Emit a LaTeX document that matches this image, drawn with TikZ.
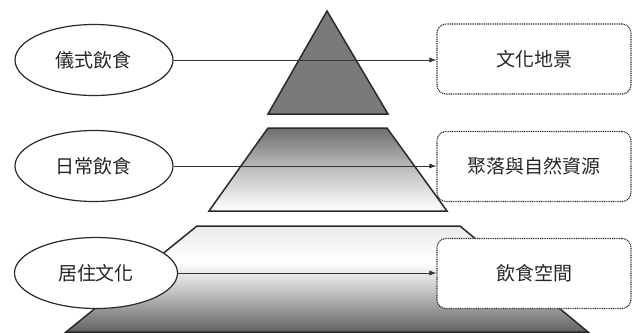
\documentclass[tikz,border=0pt]{standalone}
\usepackage{fontspec}
\newfontfamily\cjk{Noto Sans CJK TC}
\usetikzlibrary{shapes.geometric,arrows.meta}
\definecolor{txt}{HTML}{262626}
\definecolor{edge}{HTML}{2A2A2A}
\pgfdeclareverticalshading{botshade}{100bp}{color(0bp)=(black!62); color(25bp)=(black!62); color(45bp)=(black!22); color(58bp)=(white); color(75bp)=(black!8); color(100bp)=(black!8)}
\pgfdeclareverticalshading{midshade}{100bp}{color(0bp)=(white); color(25bp)=(white); color(50bp)=(black!25); color(75bp)=(black!57); color(100bp)=(black!57)}
\tikzset{
  layer/.style={draw=edge, line width=1.5pt, line join=miter},
  oval/.style={ellipse, draw=edge, line width=1.2pt, fill=white, minimum width=158pt, minimum height=71pt, inner sep=0pt, font=\cjk\fontsize{19}{19}\selectfont, text=txt},
  infobox/.style={rectangle, rounded corners=9pt, draw=edge, line width=1.1pt, dash pattern=on 1pt off 0.8pt, fill=white, minimum width=194pt, minimum height=70pt, inner sep=0pt, font=\cjk\fontsize{19}{19}\selectfont, text=txt},
  link/.style={draw=black!80, line width=0.8pt, -{Latex[length=7pt,width=5pt]}}
}
\begin{document}
\begin{tikzpicture}[x=1pt,y=-1pt]
\useasboundingbox (0,0) rectangle (633,333);
% pyramid layers
\path[layer, fill=black!52] (327,11) -- (388,114) -- (268,114) -- cycle;
\path[layer, shading=midshade] (268,128) -- (387,128) -- (447,211) -- (209,211) -- cycle;
\path[layer, shading=botshade] (197,226) -- (460,226) -- (588,332) -- (66,332) -- cycle;
% ellipses
\node[oval] (e1) at (94,60) {儀式飲食};
\node[oval] (e2) at (94,166) {日常飲食};
\node[oval, minimum width=163pt] (e3) at (96,273) {居住文化};
% boxes
\node[infobox] (b1) at (534,59) {文化地景};
\node[infobox] (b2) at (534,166.5) {聚落與自然資源};
\node[infobox] (b3) at (534,273.5) {飲食空間};
% arrows
\draw[link] (e1) -- (b1.west |- e1);
\draw[link] (e2) -- (b2.west |- e2);
\draw[link] (e3) -- (b3.west |- e3);
\end{tikzpicture}
\end{document}
